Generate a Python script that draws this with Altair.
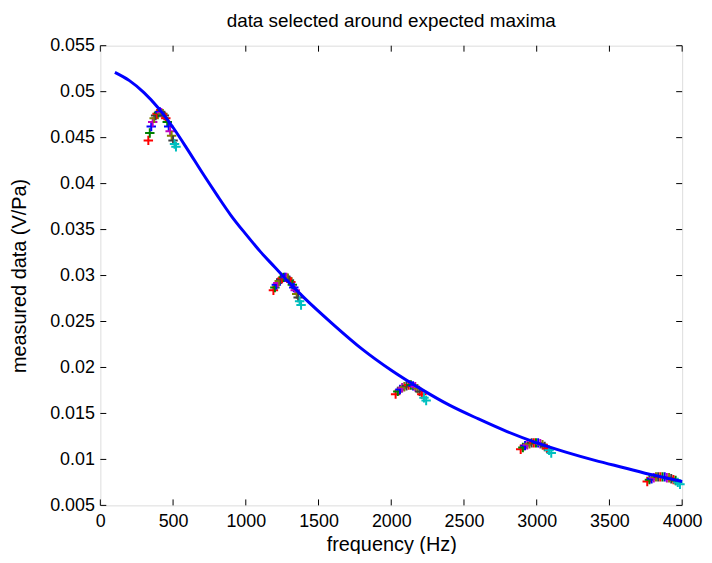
import altair as alt
import pandas as pd

# ---- data ----
curve_f = [100, 200, 300, 400, 500, 600, 700, 800, 900, 1000, 1100, 1200, 1300, 1400,
           1600, 1800, 2000, 2200, 2400, 2600, 2800, 3000, 3200, 3400, 3600, 3800, 4000]
curve_v = [0.0521, 0.0512, 0.0499, 0.0482, 0.0461, 0.0437, 0.0412, 0.0388, 0.0365, 0.0345,
           0.0326, 0.0309, 0.0292, 0.0276, 0.0247, 0.0220, 0.0197, 0.0177, 0.0159, 0.0144,
           0.0130, 0.0118, 0.0108, 0.0099, 0.0091, 0.0083, 0.0076]

c1_f = [330, 340, 350, 360, 370, 380, 390, 400, 410, 420, 430, 440, 450, 460, 470, 480, 490, 500, 510, 520]
c1_v = [0.0447, 0.0455, 0.0462, 0.0467, 0.0471, 0.0474, 0.0476, 0.0477, 0.0478, 0.0477,
        0.0476, 0.0474, 0.0471, 0.0467, 0.0462, 0.0457, 0.0452, 0.0447, 0.0443, 0.0440]
c2_f = [1190, 1200, 1210, 1220, 1230, 1240, 1250, 1260, 1270, 1280, 1290, 1300, 1310, 1320, 1330, 1340, 1350, 1360, 1370, 1380]
c2_v = [0.0284, 0.0287, 0.0290, 0.0292, 0.0294, 0.0296, 0.0297, 0.0298, 0.0298, 0.0298,
        0.0297, 0.0295, 0.0293, 0.0290, 0.0287, 0.0284, 0.0280, 0.0276, 0.0272, 0.0268]
c3_f = [2030, 2045, 2060, 2075, 2090, 2105, 2120, 2135, 2150, 2165, 2180, 2195, 2210, 2225, 2240]
c3_v = [0.0171, 0.0174, 0.0176, 0.0178, 0.0179, 0.0180, 0.0181, 0.0181, 0.0180, 0.0179,
        0.0177, 0.0174, 0.0171, 0.0167, 0.0164]
c4_f = [2890, 2905, 2920, 2935, 2950, 2965, 2980, 2995, 3010, 3025, 3040, 3055, 3070, 3085, 3100]
c4_v = [0.0111, 0.0113, 0.0115, 0.0116, 0.0117, 0.0118, 0.0118, 0.0118, 0.0118, 0.0117,
        0.0116, 0.0114, 0.0112, 0.0110, 0.0107]
c5_f = [3760, 3775, 3790, 3805, 3820, 3835, 3850, 3865, 3880, 3895, 3910, 3925, 3940, 3955, 3970, 3985]
c5_v = [0.0076, 0.0078, 0.0079, 0.0080, 0.0081, 0.0081, 0.0081, 0.0081, 0.0081, 0.0080,
        0.0080, 0.0079, 0.0078, 0.0077, 0.0075, 0.0073]

x_ticks = [0, 500, 1000, 1500, 2000, 2500, 3000, 3500, 4000]
y_ticks = [0.005, 0.01, 0.015, 0.02, 0.025, 0.03, 0.035, 0.04, 0.045, 0.05, 0.055]

series_names = ["s1", "s2", "s3", "s4", "s5", "s6", "s7"]
series_colors = ["#ff0000", "#008000", "#0000ff", "#bf00bf", "#808000", "#404040", "#00bfbf"]

# ---- tables ----
W, H = 586, 463
rows = []
for fs, vs in [(c1_f, c1_v), (c2_f, c2_v), (c3_f, c3_v), (c4_f, c4_v), (c5_f, c5_v)]:
    n = len(fs)
    for i, (f, v) in enumerate(zip(fs, vs)):
        s = series_names[6] if i >= n - 2 else series_names[i % 6]
        rows.append({"f": f, "v": v, "s": s})
pts = pd.DataFrame(rows)
curve = pd.DataFrame({"f": curve_f, "v": curve_v})
xt = pd.DataFrame({"t": x_ticks})
yt = pd.DataFrame({"t": y_ticks})

font = "Liberation Sans"
xscale = alt.Scale(domain=[0, 4000], nice=False, zero=False)
yscale = alt.Scale(domain=[0.005, 0.055], nice=False, zero=False)

xaxis = alt.Axis(values=x_ticks, format="d", ticks=False, domain=False, grid=False,
                 labelFlush=False, labelPadding=7, labelFontSize=18, labelFont=font,
                 labelColor="black",
                 title="frequency (Hz)", titleFontSize=20, titleFont=font,
                 titleFontWeight="normal", titleColor="black", titleY=39,
                 titleBaseline="middle")
yaxis = alt.Axis(values=y_ticks, format=".3~f", ticks=False, domain=False, grid=False,
                 labelFlush=False, labelPadding=6, labelFontSize=18, labelFont=font,
                 labelColor="black",
                 title="measured data (V/Pa)", titleFontSize=20, titleFont=font,
                 titleFontWeight="normal", titleColor="black", titleX=-81,
                 titleBaseline="middle")

plus = "M-1,0L1,0M0,-1L0,1"
points = alt.Chart(pts).mark_point(shape=plus, filled=False, size=90, strokeWidth=2, opacity=1).encode(
    x=alt.X("f:Q", scale=xscale, axis=xaxis),
    y=alt.Y("v:Q", scale=yscale, axis=yaxis),
    color=alt.Color("s:N", scale=alt.Scale(domain=series_names, range=series_colors), legend=None),
)
line = alt.Chart(curve).mark_line(color="#0000ff", strokeWidth=3, interpolate="monotone").encode(
    x=alt.X("f:Q", scale=xscale), y=alt.Y("v:Q", scale=yscale)
)
tb = alt.Chart(xt).mark_rule(color="black").encode(
    x=alt.X("t:Q", scale=xscale), y=alt.value(H), y2=alt.value(H - 6))
tt = alt.Chart(xt).mark_rule(color="black").encode(
    x=alt.X("t:Q", scale=xscale), y=alt.value(0), y2=alt.value(6))
tl = alt.Chart(yt).mark_rule(color="black").encode(
    y=alt.Y("t:Q", scale=yscale), x=alt.value(0), x2=alt.value(6))
tr = alt.Chart(yt).mark_rule(color="black").encode(
    y=alt.Y("t:Q", scale=yscale), x=alt.value(W), x2=alt.value(W - 6))

chart = alt.layer(points, line, tb, tt, tl, tr).properties(
    width=W, height=H,
    autosize=alt.AutoSizeParams(type="none"),
    padding={"left": 93, "top": 36, "right": 22, "bottom": 47},
    title=alt.Title("data selected around expected maxima", font=font, fontSize=19,
                    fontWeight="normal", color="black", anchor="middle", offset=6),
).configure_view(stroke="black", strokeWidth=1).configure(background="white")

chart.save("out.html", embed_options={"renderer": "svg", "actions": False})
